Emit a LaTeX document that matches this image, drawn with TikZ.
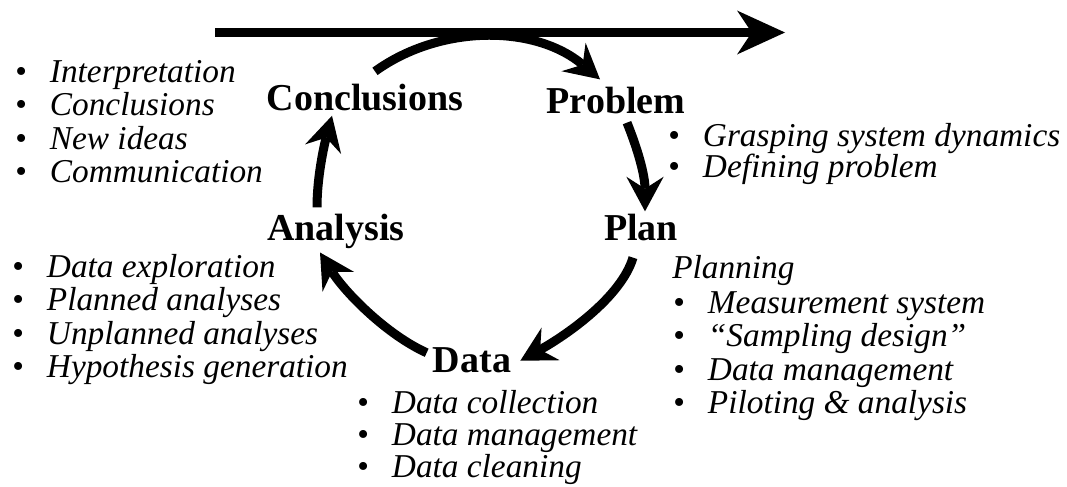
\documentclass[tikz,border=0pt]{standalone}
\usepackage{fontspec}
\setmainfont{Liberation Serif}
\usetikzlibrary{arrows.meta,calc}

\newcommand{\bul}{\makebox[26pt][l]{\upshape\textbullet}}

\begin{document}
\begin{tikzpicture}[x=0.75pt, y=-0.75pt,
		stage/.style={anchor=base, inner sep=0pt, font=\fontsize{28.5}{30}\selectfont\bfseries},
		item/.style={anchor=base west, inner sep=0pt, font=\fontsize{25}{25}\selectfont\itshape},
		cyc/.style={line width=6.75pt, -{Stealth[length=26pt,width=28pt,inset=9pt,line width=0pt]}}]
		
		\useasboundingbox (0,0) rectangle (1067,486);
		
		% stages of the cycle
		\node[stage] (concl) at (365,110) {Conclusions};
		\node[stage] (prob) at (616,113) {Problem};
		\node[stage] (plan) at (641,240) {Plan};
		\node[stage] (data) at (472,372) {Data};
		\node[stage] (ana) at (336,240) {Analysis};
		
		% time line on top
		\coordinate (tl) at (215,32.5);
		\coordinate (tr) at (785,32.5);
		\draw[line width=6.75pt, -{Stealth[length=36pt,width=33pt,inset=11pt,line width=0pt]}] (tl) -- (tr);
		
		% arrows of the cycle
		\draw[cyc] ($(concl.north)+(10,-12)$) .. controls +(65,-47) and +(-65,-55) .. ($(prob.north)+(-16,-7)$);
		\draw[cyc] ($(prob.south)+(11,9)$) .. controls +(12,30) and +(0,-35) .. ($(plan.north)+(4,-2)$);
		\draw[cyc] ($(plan.south)+(-8,17)$) .. controls +(-12,40) and +(45,-25) .. ($(data.east)+(9,1)$);
		\draw[cyc] ($(data.west)+(-6,-7)$) .. controls +(-40,-18) and +(25,40) .. ($(ana.south)+(-16,4)$);
		\draw[cyc] ($(ana.north)+(-19,-6)$) .. controls +(0,-30) and +(-8,30) .. ($(concl.south)+(-33,5)$);
		
		% lists
		\foreach \txt [count=\i] in {Interpretation, Conclusions, New ideas, Communication}
		\node[item] (intp\i) at (15,{82+33.5*(\i-1)}) {\bul\txt};
		
		\foreach \txt [count=\i] in {Grasping system dynamics, Defining problem}
		\node[item] (grsp\i) at (668,{146+31*(\i-1)}) {\bul\txt};
		
		\node[item] (plng) at (672,278) {Planning};
		\foreach \txt [count=\i] in {Measurement system, ``Sampling design'', Data management, Piloting \& analysis}
		\node[item] (meas\i) at (673,{313+33.5*(\i-1)}) {\bul\txt};
		
		\foreach \txt [count=\i] in {Data exploration, Planned analyses, Unplanned analyses, Hypothesis generation}
		\node[item] (expl\i) at (12,{277+33.5*(\i-1)}) {\bul\txt};
		
		\foreach \txt [count=\i] in {Data collection, Data management, Data cleaning}
		\node[item] (coll\i) at (357,{413+32*(\i-1)}) {\bul\txt};
		
	\end{tikzpicture}
\end{document}
